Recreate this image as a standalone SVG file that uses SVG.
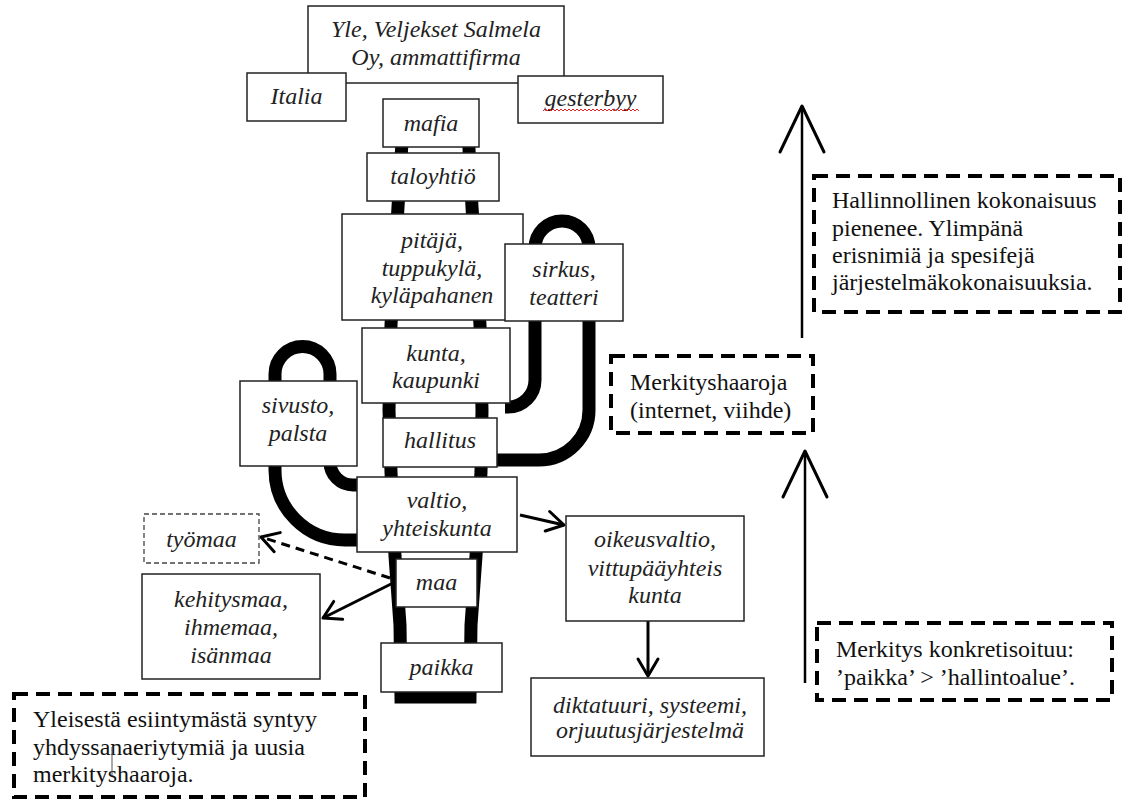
<svg xmlns="http://www.w3.org/2000/svg" width="1132" height="803" viewBox="0 0 1132 803">
<defs>
<style>
.box{fill:#fff;stroke:#222;stroke-width:1.5}
.dbox{fill:#fff;stroke:#444;stroke-width:1.3;stroke-dasharray:5 3}
.note{fill:none;stroke:#000;stroke-width:4;stroke-dasharray:14 8}
.n{font-family:'Liberation Serif','Times New Roman',serif;font-style:italic;font-size:24px;fill:#222;text-anchor:middle}
.t{font-family:'Liberation Serif','Times New Roman',serif;font-size:24px;fill:#111}
.thick{fill:none;stroke:#000;stroke-width:13}
.arr{fill:none;stroke:#000;stroke-width:3}
.big{fill:none;stroke:#000;stroke-width:2.5}
</style>
<marker id="head" markerUnits="userSpaceOnUse" viewBox="-20 -12 24 24" refX="0" refY="0" markerWidth="24" markerHeight="24" orient="auto" overflow="visible">
<path d="M-17,-10 L0,0 L-17,10" fill="none" stroke="#000" stroke-width="3" stroke-linecap="round" stroke-linejoin="round"/>
</marker>
<marker id="bighead" markerUnits="userSpaceOnUse" viewBox="-50 -25 54 50" refX="0" refY="0" markerWidth="54" markerHeight="50" orient="auto" overflow="visible">
<path d="M-46,-22 L0,0 L-46,22" fill="none" stroke="#000" stroke-width="3" stroke-linecap="round" stroke-linejoin="round"/>
</marker>
</defs>
<rect width="1132" height="803" fill="#fff"/>

<g id="connectors">
<path class="thick" d="M404,110 L398,207 L391,325 L389,410 L391,472 L395,556 L400,625 L401,697 L470,697 L471,625 L476,556 L481,472 L482,410 L480,325 L472,207 L467,110"/>
<path class="thick" d="M505,407 L508,407 A27,27 0 0 0 535,380 L535,248 A27,27 0 0 1 589,248 L589,410 A50,50 0 0 1 539,460 L492,460"/>
<path class="thick" d="M362,485 L353,485 A23,23 0 0 1 330,462 L330,374 A27.5,27.5 0 0 0 275,374 L275,470 A70,70 0 0 0 345,540 L362,540"/>
<path class="arr" d="M390,578 L261,537" stroke-dasharray="9 6" marker-end="url(#head)"/>
<path class="arr" d="M393,583 L323,618" marker-end="url(#head)"/>
<path class="arr" d="M520,515 L564,525" marker-end="url(#head)"/>
<path class="arr" d="M648,621 L648,676" marker-end="url(#head)"/>
<path class="big" d="M802,338 L802,106" marker-end="url(#bighead)"/>
<path class="big" d="M805,683 L805,451" marker-end="url(#bighead)"/>
</g>

<g id="yle"><rect class="box" x="308" y="6" width="256" height="77"/>
<text class="n" x="436" y="37">Yle, Veljekset Salmela</text>
<text class="n" x="436" y="65">Oy, ammattifirma</text></g>

<g id="italia"><rect class="box" x="247" y="73" width="99" height="48"/>
<text class="n" x="296.5" y="104">Italia</text></g>

<g id="gesterbyy"><rect class="box" x="518" y="76" width="145" height="47"/>
<text class="n" x="590.5" y="106">gesterbyy</text>
<path d="M543,111 l2,-2 l2,2 l2,-2 l2,2 l2,-2 l2,2 l2,-2 l2,2 l2,-2 l2,2 l2,-2 l2,2 l2,-2 l2,2 l2,-2 l2,2 l2,-2 l2,2 l2,-2 l2,2 l2,-2 l2,2 l2,-2 l2,2 l2,-2 l2,2 l2,-2 l2,2 l2,-2 l2,2 l2,-2 l2,2 l2,-2 l2,2 l2,-2 l2,2 l2,-2 l2,2 l2,-2 l2,2 l2,-2 l2,2 l2,-2 l2,2 l2,-2 l2,2 l2,-2 l2,2" fill="none" stroke="#e02020" stroke-width="1"/></g>

<g id="mafia"><rect class="box" x="383" y="99" width="96" height="48"/>
<text class="n" x="431" y="131">mafia</text></g>

<g id="taloyhtio"><rect class="box" x="367" y="153" width="132" height="48"/>
<text class="n" x="433" y="184">taloyhtiö</text></g>

<g id="pitaja"><rect class="box" x="342" y="214" width="181" height="106"/>
<text class="n" x="432" y="248">pitäjä,</text>
<text class="n" x="432" y="276">tuppukylä,</text>
<text class="n" x="432" y="303">kyläpahanen</text></g>

<g id="sirkus"><rect class="box" x="505" y="244" width="118" height="77"/>
<text class="n" x="564" y="277">sirkus,</text>
<text class="n" x="564" y="305">teatteri</text></g>

<g id="kunta"><rect class="box" x="362" y="328" width="148" height="75"/>
<text class="n" x="436" y="361">kunta,</text>
<text class="n" x="436" y="388">kaupunki</text></g>

<g id="sivusto"><rect class="box" x="240" y="381" width="117" height="85"/>
<text class="n" x="298" y="413">sivusto,</text>
<text class="n" x="298" y="441">palsta</text></g>

<g id="hallitus"><rect class="box" x="383" y="418" width="114" height="49"/>
<text class="n" x="440" y="448">hallitus</text></g>

<g id="valtio"><rect class="box" x="357" y="477" width="160" height="75"/>
<text class="n" x="437" y="508">valtio,</text>
<text class="n" x="437" y="536">yhteiskunta</text></g>

<g id="maa"><rect class="box" x="396" y="559" width="81" height="48"/>
<text class="n" x="436.5" y="590">maa</text></g>

<g id="paikka"><rect class="box" x="381" y="643" width="121" height="49"/>
<text class="n" x="441.5" y="675">paikka</text></g>

<g id="tyomaa"><rect class="dbox" x="144" y="514" width="115" height="49"/>
<text class="n" x="201.5" y="547">työmaa</text></g>

<g id="kehitysmaa"><rect class="box" x="142" y="574" width="178" height="105"/>
<text class="n" x="231" y="607">kehitysmaa,</text>
<text class="n" x="231" y="635">ihmemaa,</text>
<text class="n" x="231" y="663">isänmaa</text></g>

<g id="oikeusvaltio"><rect class="box" x="566" y="516" width="178" height="105"/>
<text class="n" x="655" y="547">oikeusvaltio,</text>
<text class="n" x="655" y="576">vittupääyhteis</text>
<text class="n" x="655" y="603">kunta</text></g>

<g id="diktatuuri"><rect class="box" x="531" y="678" width="233" height="78"/>
<text class="n" x="650" y="713">diktatuuri, systeemi,</text>
<text class="n" x="650" y="738">orjuutusjärjestelmä</text></g>

<g id="note-yleisesta"><rect class="note" x="14" y="694" width="351" height="103"/>
<text class="t" x="33" y="727">Yleisestä esiintymästä syntyy</text>
<text class="t" x="33" y="755">yhdyssanaeriytymiä ja uusia</text>
<text class="t" x="33" y="782">merkityshaaroja.</text>
<line x1="112" y1="747" x2="112" y2="775" stroke="#555" stroke-width="1"/></g>

<g id="note-hallinnollinen"><rect class="note" x="814" y="176" width="306" height="136"/>
<text class="t" x="832" y="208">Hallinnollinen kokonaisuus</text>
<text class="t" x="832" y="236">pienenee. Ylimpänä</text>
<text class="t" x="832" y="263">erisnimiä ja spesifejä</text>
<text class="t" x="832" y="290">järjestelmäkokonaisuuksia.</text></g>

<g id="note-merkityshaaroja"><rect class="note" x="611" y="356" width="202" height="77"/>
<text class="t" x="630" y="390">Merkityshaaroja</text>
<text class="t" x="630" y="418">(internet, viihde)</text></g>

<g id="note-konkretisoituu"><rect class="note" x="817" y="623" width="295" height="77"/>
<text class="t" x="836" y="657">Merkitys konkretisoituu:</text>
<text class="t" x="836" y="685">’paikka’ &gt; ’hallintoalue’.</text></g>
</svg>
